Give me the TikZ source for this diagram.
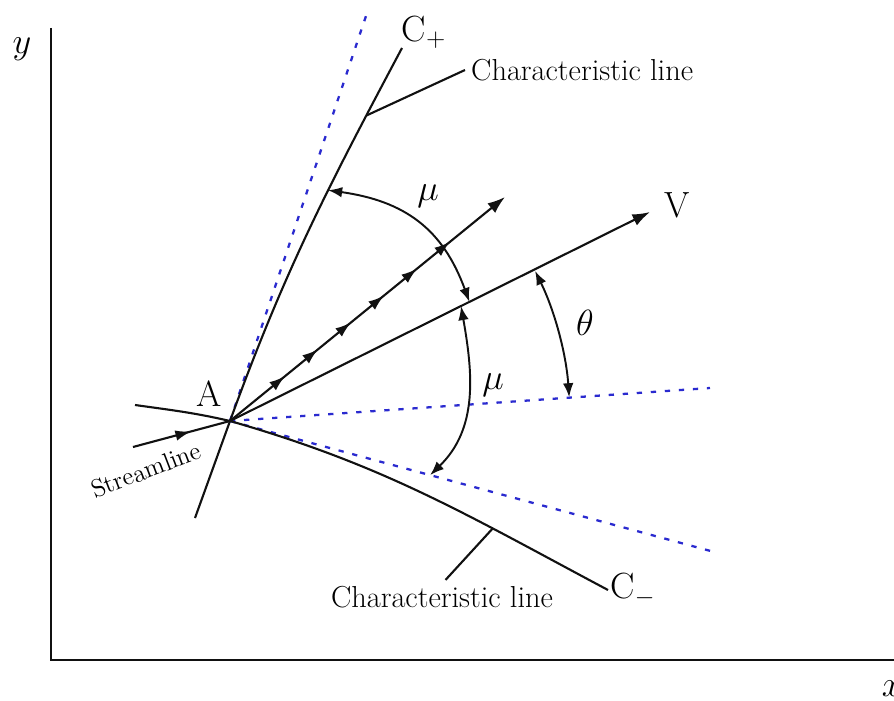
\documentclass[tikz,border=0pt]{standalone}
\usepackage{xcolor}
\usepackage{tikz}
\usetikzlibrary{arrows.meta,decorations.markings}
\definecolor{guideblue}{HTML}{2A2ACF}
\definecolor{ink}{HTML}{111111}

\tikzset{
  axisline/.style={ink, line width=1.6pt},
  charline/.style={ink, line width=1.2pt},
  guideline/.style={guideblue, line width=1.3pt, dash pattern=on 3pt off 5pt},
  anglearc/.style={ink, line width=1.1pt, {Latex[length=8pt,width=6pt]}-{Latex[length=8pt,width=6pt]}},
  bigtext/.style={font=\huge, inner sep=1pt},
  captext/.style={font=\LARGE}
}

\begin{document}
\begin{tikzpicture}

\useasboundingbox (0,0) rectangle (17.88,14);

% =========================
% AXES
% =========================
\coordinate (O) at (1.02,0.8);
\coordinate (ytop) at (1.02,13.44);
\coordinate (xend) at (17.88,0.8);
\draw[axisline] (ytop) -- (O) -- (xend);

\node[bigtext] (ylab) at (0.44,13.02) {$y$};
\node[bigtext] (xlab) at (17.84,0.22) {$x$};

% =========================
% POINT A
% =========================
\coordinate (A) at (4.6,5.58);
\node[bigtext] (Alab) at (4.18,6.12) {A};

% =========================
% GUIDE LINES (dashed, blue)
% =========================
\coordinate (tanP) at (7.36,13.8);
\coordinate (horiz) at (14.2,6.24);
\coordinate (tanM) at (14.36,2.94);
\draw[guideline] (A) -- (tanP);
\draw[guideline] (A) -- coordinate[pos=0.41] (muLb) (tanM);
\draw[guideline] (A) -- (horiz);

% =========================
% CHARACTERISTIC C+
% =========================
\coordinate (Cplow) at (3.9,3.64);
\coordinate (Cptop) at (8.04,13.04);
\draw[charline] (Cplow) -- (A)
  to[out=70,in=-118] coordinate[pos=0.62] (muUa) coordinate[pos=0.83] (Cpmark) (Cptop);
\node[bigtext] (Cplab) at (8.48,13.36) {C$_+$};

% upper leader
\node[captext, anchor=west] (lineUp) at (9.3,12.6) {Characteristic line};
\draw[charline] (Cpmark) -- (lineUp.west);

% =========================
% CHARACTERISTIC C-
% =========================
\coordinate (Cmstart) at (2.7,5.9);
\coordinate (Cmend) at (12.16,2.2);
\draw[charline] (Cmstart) to[out=-8,in=167] (A)
  to[out=-16,in=152] coordinate[pos=0.7] (Cmmark) (Cmend);
\node[bigtext] (Cmlab) at (12.66,2.2) {C$_-$};

% lower leader
\node[captext] (lineDown) at (8.84,2.06) {Characteristic line};
\draw[charline] (Cmmark) -- ([xshift=2pt]lineDown.north);

% =========================
% VELOCITY V
% =========================
\coordinate (Vtip) at (13.0,9.76);
\draw[charline, -{Latex[length=10pt,width=7pt]}] (A)
  -- coordinate[pos=0.57] (muUb) coordinate[pos=0.55] (muLa) (Vtip);
\node[bigtext] (Vlab) at (13.54,9.9) {V};

% =========================
% STREAMLINE
% =========================
\coordinate (Sin) at (2.66,5.06);
\coordinate (Stip) at (10.1,10.06);
\draw[charline, postaction={decorate},
  decoration={markings, mark=at position 0.6 with {\arrow{Latex[length=9pt,width=6pt]}}}]
  (Sin) -- (A);
\draw[charline, -{Latex[length=10pt,width=7pt]}, postaction={decorate},
  decoration={markings, mark=between positions 0.2 and 0.81 step 0.12 with {\arrow{Latex[length=9pt,width=6pt]}}}]
  (A) -- (Stip);
\node[font=\Large, rotate=21] (Slab) at (2.92,4.6) {Streamline};

% =========================
% ANGLES
% =========================
% mu between C+ and V
\draw[anglearc] (muUa) to[out=-8,in=110,looseness=1.1] (muUb);
\node[bigtext] (muU) at (8.56,10.08) {$\mu$};

% mu between V and lower guide
\draw[anglearc] (muLa) to[out=-80,in=44] (muLb);
\node[bigtext] (muL) at (9.86,6.3) {$\mu$};

% theta between V and horizontal
\coordinate (thA) at ([shift={(26.2:6.8)}]A);
\draw[anglearc] (thA) arc[start angle=26.2, end angle=4, radius=6.8];
\node[bigtext] (th) at (11.7,7.54) {$\theta$};

\end{tikzpicture}
\end{document}
